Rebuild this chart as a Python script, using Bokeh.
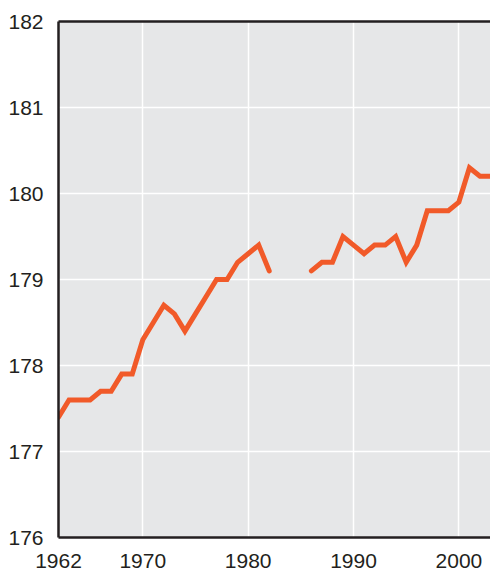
import math
from bokeh.plotting import figure
from bokeh.models import Range1d, FixedTicker, LinearAxis
from bokeh.embed import file_html
from bokeh.resources import INLINE

nan = float("nan")

years = list(range(1962, 2004))
heights = [177.4, 177.6, 177.6, 177.6, 177.7, 177.7, 177.9, 177.9, 178.3, 178.5,
           178.7, 178.6, 178.4, 178.6, 178.8, 179.0, 179.0, 179.2, 179.3, 179.4,
           179.1, nan, nan, nan, 179.1, 179.2, 179.2, 179.5, 179.4, 179.3,
           179.4, 179.4, 179.5, 179.2, 179.4, 179.8, 179.8, 179.8, 179.9, 180.3,
           180.2, 180.2]
x_ticks = [1962, 1970, 1980, 1990, 2000]
y_ticks = [176, 177, 178, 179, 180, 181, 182]

TEXT = "#231f20"
FONT = "Liberation Sans"

p = figure(width=490, height=570,
           x_range=Range1d(1962, 2003.0), y_range=Range1d(176, 182),
           output_backend="svg", toolbar_location=None,
           min_border_left=58, min_border_right=0,
           min_border_top=21, min_border_bottom=33)
p.background_fill_color = "#e6e7e8"
p.border_fill_color = "white"
p.outline_line_color = None

p.line(years, heights, line_color="#f15a29", line_width=5,
       line_join="miter", line_cap="round")

for ax in (p.xaxis[0], p.yaxis[0]):
    ax.axis_line_color = TEXT
    ax.axis_line_width = 2.5
    ax.major_tick_line_color = None
    ax.minor_tick_line_color = None
    ax.major_tick_out = 0
    ax.major_tick_in = 0
    ax.minor_tick_out = 0
    ax.major_label_text_font = FONT
    ax.major_label_text_font_size = "21px"
    ax.major_label_text_color = TEXT

p.xaxis.ticker = FixedTicker(ticks=x_ticks)
p.yaxis.ticker = FixedTicker(ticks=y_ticks)
p.xaxis.major_label_standoff = 16
p.yaxis.major_label_standoff = 15

p.xgrid.ticker = FixedTicker(ticks=x_ticks)
p.ygrid.ticker = FixedTicker(ticks=y_ticks)
p.grid.grid_line_color = "white"
p.grid.grid_line_width = 1.5

top = LinearAxis(ticker=FixedTicker(ticks=[]), axis_line_color=TEXT,
                 axis_line_width=2.5, major_tick_line_color=None,
                 minor_tick_line_color=None, major_tick_out=0, minor_tick_out=0,
                 major_label_text_font_size="0px")
p.add_layout(top, "above")

open("out.html", "w").write(file_html(p, INLINE))
